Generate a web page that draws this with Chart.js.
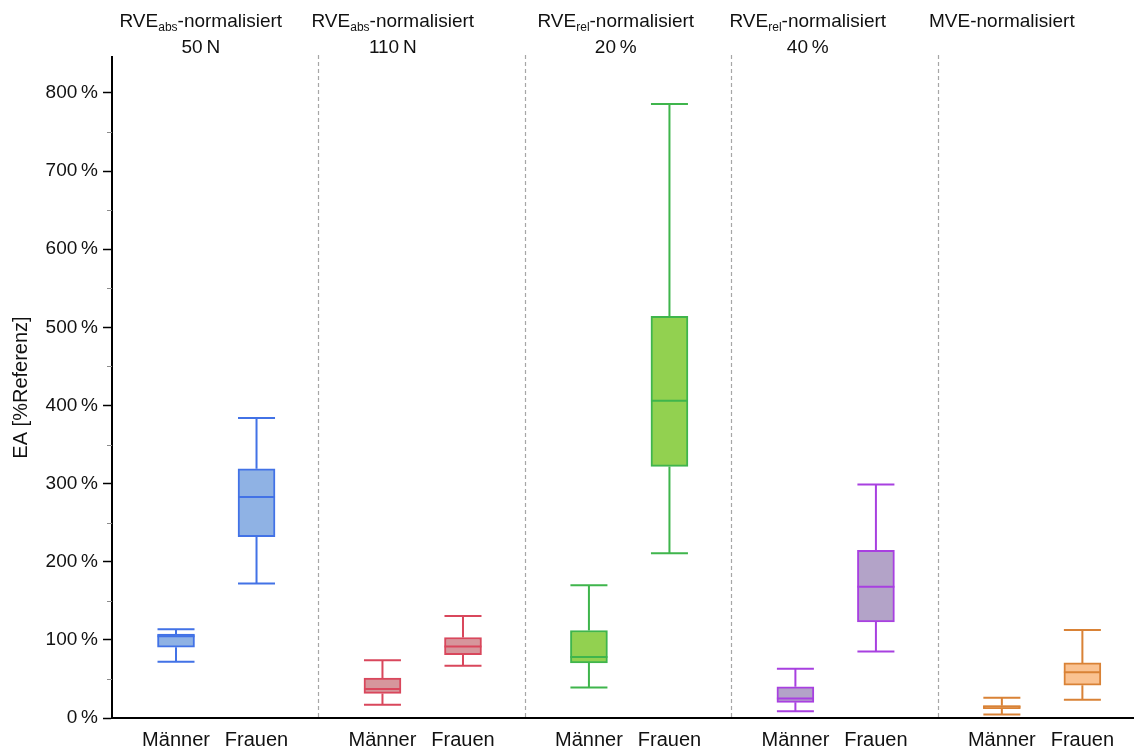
<!DOCTYPE html>
<html>
<head>
<meta charset="utf-8">
<script src="https://cdn.jsdelivr.net/npm/chart.js@4.4.0/dist/chart.umd.min.js"></script>
<style>
  body { margin: 0; background: #fff; }
  #wrap { width: 1134px; height: 751px; }
</style>
</head>
<body>
<div id="wrap"><canvas id="boxChart" width="1134" height="751"></canvas></div>
<script>
// Gruppen (Überschriften)
const titleMain = ['RVE', 'RVE', 'RVE', 'RVE', 'MVE'];
const titleSub = ['abs', 'abs', 'rel', 'rel', ''];
const titleRest = ['-normalisiert', '-normalisiert', '-normalisiert', '-normalisiert', '-normalisiert'];
const titleLine2 = ['50\u2009N', '110\u2009N', '20\u2009%', '40\u2009%', ''];
const sexes = ['Männer', 'Frauen'];

// Boxplot-Werte in %, Reihenfolge: G1 Männer, G1 Frauen, G2 Männer, ...
const minVals    = [72, 172, 17, 67, 39, 211, 8.5, 85, 4.5, 23.5];
const q1Vals     = [90.5, 232, 31.5, 81, 70.5, 322, 20, 123, 12, 42];
const medianVals = [104.5, 283, 37, 91.5, 78, 406, 25, 168, 14.5, 58.5];
const q3Vals     = [107.5, 319, 51, 103, 112, 514, 40, 214.5, 16, 70.5];
const maxVals    = [113.5, 384, 74, 130.5, 170, 786, 63, 299, 26, 112.5];

const yTicks = [0, 100, 200, 300, 400, 500, 600, 700, 800];
const yMinorTicks = [50, 150, 250, 350, 450, 550, 650, 750];

// Farben je Gruppe
const strokeColors = ['#4272e6', '#d9475c', '#3fb54c', '#a840e0', '#d98236'];
const fillColors = ['#8fb2e4', '#d6969c', '#92d150', '#b3a3c8', '#fac291'];

// Lage innerhalb einer Gruppe (x-Achse: jede Gruppe hat Breite 1)
const slotOffset = [0.31, 0.70];
const titleCenter = [0.43, 1.36, 2.44, 3.37, 4.31];

const FONT = "'Liberation Sans', Arial, sans-serif";

const positions = [];
const labelOf = {};
for (let g = 0; g < titleMain.length; g++) {
  sexes.forEach((s, k) => {
    const p = g + slotOffset[k];
    positions.push(p);
    labelOf[p.toFixed(2)] = s;
  });
}

const boxData = positions.map((p, i) => ({ x: p, y: [q1Vals[i], q3Vals[i]] }));
const boxStroke = positions.map((p, i) => strokeColors[Math.floor(i / 2)]);
const boxFill = positions.map((p, i) => fillColors[Math.floor(i / 2)]);

const boxPlugin = {
  id: 'boxExtras',
  beforeDatasetsDraw(chart) {
    const { ctx, chartArea, scales: { x } } = chart;
    ctx.save();
    // gestrichelte Trennlinien
    ctx.strokeStyle = '#a6a6a6';
    ctx.lineWidth = 1.2;
    ctx.setLineDash([4, 3]);
    for (let g = 1; g < titleMain.length; g++) {
      const px = Math.round(x.getPixelForValue(g)) + 0.5;
      ctx.beginPath();
      ctx.moveTo(px, chartArea.top - 2);
      ctx.lineTo(px, chartArea.bottom);
      ctx.stroke();
    }
    ctx.restore();
  },
  afterDatasetsDraw(chart) {
    const { ctx, scales: { x, y } } = chart;
    const meta = chart.getDatasetMeta(0);
    ctx.save();
    ctx.lineWidth = 2;
    meta.data.forEach((bar, i) => {
      const half = bar.width / 2;
      const cx = bar.x;
      const yMin = y.getPixelForValue(minVals[i]);
      const yMax = y.getPixelForValue(maxVals[i]);
      const yQ1 = y.getPixelForValue(q1Vals[i]);
      const yQ3 = y.getPixelForValue(q3Vals[i]);
      const yMed = y.getPixelForValue(medianVals[i]);
      ctx.strokeStyle = boxStroke[i];
      ctx.beginPath();
      ctx.moveTo(cx, yQ3); ctx.lineTo(cx, yMax);
      ctx.moveTo(cx, yQ1); ctx.lineTo(cx, yMin);
      ctx.moveTo(cx - half, yMax); ctx.lineTo(cx + half, yMax);
      ctx.moveTo(cx - half, yMin); ctx.lineTo(cx + half, yMin);
      ctx.moveTo(cx - half, yMed); ctx.lineTo(cx + half, yMed);
      ctx.stroke();
    });

    // kleine Zwischenstriche an der y-Achse
    ctx.strokeStyle = '#8c8c8c';
    ctx.lineWidth = 1;
    const ax = x.left;
    yMinorTicks.forEach(v => {
      const py = Math.round(y.getPixelForValue(v)) + 0.5;
      ctx.beginPath();
      ctx.moveTo(ax - 5, py);
      ctx.lineTo(ax, py);
      ctx.stroke();
    });

    // Überschriften der Gruppen
    ctx.fillStyle = '#111';
    ctx.textBaseline = 'alphabetic';
    titleMain.forEach((main, g) => {
      const cx = x.getPixelForValue(titleCenter[g]);
      ctx.font = '19px ' + FONT;
      const w1 = ctx.measureText(main).width;
      const w3 = ctx.measureText(titleRest[g]).width;
      ctx.font = '12px ' + FONT;
      const w2 = ctx.measureText(titleSub[g]).width;
      const sx = cx - (w1 + w2 + w3) / 2;
      ctx.textAlign = 'left';
      ctx.font = '19px ' + FONT;
      ctx.fillText(main, sx, 27);
      ctx.font = '12px ' + FONT;
      ctx.fillText(titleSub[g], sx + w1, 31);
      ctx.font = '19px ' + FONT;
      ctx.fillText(titleRest[g], sx + w1 + w2, 27);
      ctx.textAlign = 'center';
      ctx.fillText(titleLine2[g], cx, 53);
    });
    ctx.restore();
  }
};

new Chart(document.getElementById('boxChart'), {
  type: 'bar',
  data: {
    datasets: [{
      data: boxData,
      backgroundColor: boxFill,
      borderColor: boxStroke,
      borderWidth: 2,
      borderSkipped: false,
      barThickness: 37,
      grouped: false,
    }],
  },
  plugins: [boxPlugin],
  options: {
    responsive: false,
    animation: false,
    layout: { padding: { top: 57, left: 0, right: 0, bottom: 0 } },
    plugins: {
      legend: { display: false },
      tooltip: { enabled: false },
    },
    scales: {
      x: {
        type: 'linear',
        min: 0,
        max: 4.95,
        offset: false,
        afterFit: (scale) => { scale.height = 33; },
        afterBuildTicks: (scale) => { scale.ticks = positions.map(v => ({ value: v })); },
        grid: { display: false, drawTicks: false },
        border: { display: true, color: '#000', width: 2 },
        ticks: {
          autoSkip: false,
          maxRotation: 0,
          padding: 10,
          color: '#111',
          font: { family: FONT, size: 20 },
          callback: (v) => labelOf[Number(v).toFixed(2)] || '',
        },
      },
      y: {
        min: 0,
        max: 846,
        afterFit: (scale) => { scale.width = 112; },
        afterBuildTicks: (scale) => { scale.ticks = yTicks.map(v => ({ value: v })); },
        grid: {
          drawOnChartArea: false,
          drawTicks: true,
          tickLength: 9,
          tickColor: '#000',
          tickWidth: 1.5,
        },
        border: { display: true, color: '#000', width: 2 },
        ticks: {
          padding: 5,
          color: '#111',
          font: { family: FONT, size: 19 },
          callback: (v) => v + '\u2009%',
        },
        title: {
          display: true,
          text: 'EA [%Referenz]',
          color: '#111',
          font: { family: FONT, size: 20 },
          padding: { top: 9, bottom: 0 },
        },
      },
    },
  },
});
</script>
</body>
</html>
